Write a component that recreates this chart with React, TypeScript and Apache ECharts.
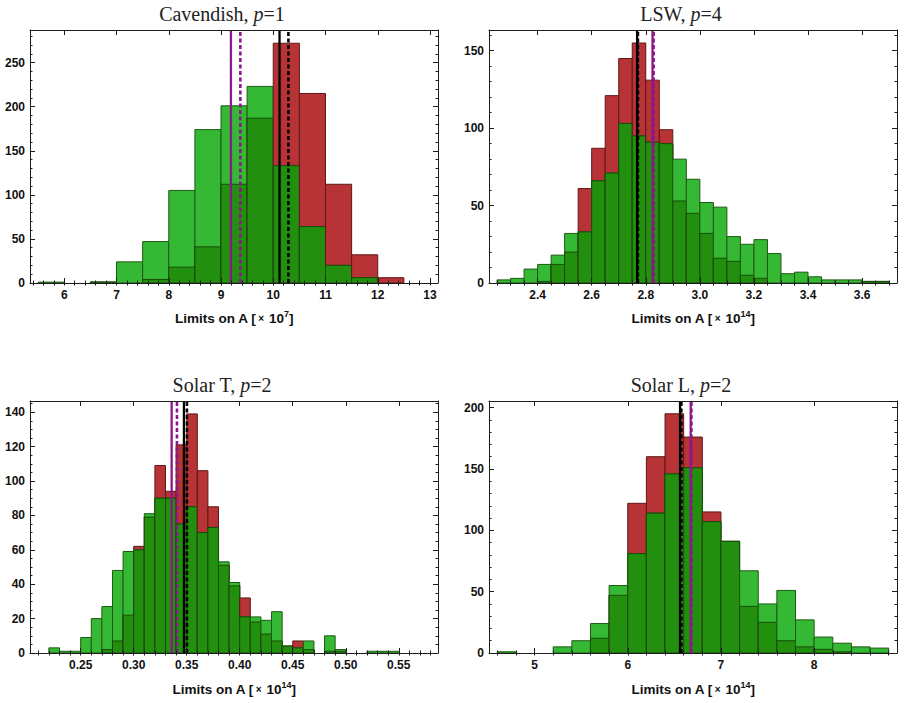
import React, { useEffect, useRef } from "react";
import * as echarts from "echarts";

// ---- Cavendish, p=1 (bins of 0.5, x in units of 1e7) ----
const cavBinStart = 5.5;
const cavBinWidth = 0.5;
const cavRed = [0, 0, 1, 0, 4, 18, 41, 112, 187, 272, 215, 112, 32, 6, 0];
const cavGreen = [1, 0, 1, 24, 47, 105, 174, 201, 223, 133, 64, 20, 6, 0, 0];
const cavXTicks = [6, 7, 8, 9, 10, 11, 12, 13];
const cavYTicks = [0, 50, 100, 150, 200, 250];
// purple solid, purple dashed, black solid, black dashed
const cavMarkers = [9.19, 9.37, 10.12, 10.29];

// ---- LSW, p=4 (bins of 0.05, x in units of 1e14) ----
const lswBinStart = 2.25;
const lswBinWidth = 0.05;
const lswRed = [0, 0, 0, 1, 12, 20, 61, 87, 121, 145, 155, 131, 99, 53, 45, 32, 16, 14, 5, 3, 0, 0, 0, 0, 0, 0, 0, 1, 1];
const lswGreen = [2, 3, 9, 12, 18, 32, 33, 66, 71, 103, 95, 91, 90, 80, 67, 52, 49, 30, 25, 28, 19, 6, 7, 4, 2, 2, 2, 1, 1];
const lswXTicks = [2.4, 2.6, 2.8, 3.0, 3.2, 3.4, 3.6];
const lswYTicks = [0, 50, 100, 150];
const lswMarkers = [2.825, 2.829, 2.768, 2.771];

// ---- Solar T, p=2 (bins of 0.01, x in units of 1e14) ----
const solTBinStart = 0.22;
const solTBinWidth = 0.01;
const solTRed = [0, 0, 0, 0, 0, 2, 7, 22, 62, 79, 109, 94, 121, 139, 106, 85, 51, 39, 32, 18, 11, 7, 4, 7, 2, 0, 1, 1, 0, 0, 0, 0, 0];
const solTGreen = [3, 1, 1, 9, 20, 27, 48, 59, 60, 81, 90, 90, 75, 85, 70, 73, 53, 41, 21, 21, 19, 24, 4, 3, 7, 0, 10, 2, 0, 0, 1, 1, 1];
const solTXTicks = [0.25, 0.3, 0.35, 0.4, 0.45, 0.5, 0.55];
const solTYTicks = [0, 20, 40, 60, 80, 100, 120, 140];
const solTMarkers = [0.3358, 0.3408, 0.3474, 0.3502];

// ---- Solar L, p=2 (bins of 0.2, x in units of 1e14) ----
const solLBinStart = 4.6;
const solLBinWidth = 0.2;
const solLRed = [0, 0, 0, 0, 0, 12, 47, 122, 160, 195, 176, 115, 91, 38, 25, 10, 5, 3, 1, 0, 0];
const solLGreen = [1, 0, 0, 5, 10, 24, 55, 81, 114, 146, 151, 107, 91, 67, 40, 51, 27, 13, 8, 5, 4];
const solLXTicks = [5, 6, 7, 8];
const solLYTicks = [0, 50, 100, 150, 200];
const solLMarkers = [6.675, 6.683, 6.561, 6.575];

const RED = "#B83335";
const RED_EDGE = "#5C1818";
const GREEN = "#35B934";
const GREEN_EDGE = "#1E5A12";
const DARK = "#238F0F";
const DARK_EDGE = "#174D0A";
const PURPLE = "#8C178C";
const FRAME = "#1c1c1c";

type Panel = {
  title: string;
  exponent: string;
  binStart: number;
  binWidth: number;
  red: number[];
  green: number[];
  xTicks: number[];
  yTicks: number[];
  markers: number[];
  xMin: number;
  xMax: number;
  yMax: number;
  xMinorStep: number;
  yMinorStep: number;
  xDecimals: number;
  box: { left: number; top: number; width: number; height: number };
  titleX: number;
  titleY: number;
  nameY: number;
};

const panels: Panel[] = [
  {
    title: "Cavendish, ", exponent: "7",
    binStart: cavBinStart, binWidth: cavBinWidth, red: cavRed, green: cavGreen,
    xTicks: cavXTicks, yTicks: cavYTicks, markers: cavMarkers,
    xMin: 5.344, xMax: 13.153, yMax: 287, xMinorStep: 0.2, yMinorStep: 10, xDecimals: 0,
    box: { left: 30, top: 30, width: 408, height: 253 }, titleX: 222, titleY: 14, nameY: 318,
  },
  {
    title: "LSW, ", exponent: "14",
    binStart: lswBinStart, binWidth: lswBinWidth, red: lswRed, green: lswGreen,
    xTicks: lswXTicks, yTicks: lswYTicks, markers: lswMarkers,
    xMin: 2.2203, xMax: 3.729, yMax: 163.4, xMinorStep: 0.05, yMinorStep: 10, xDecimals: 1,
    box: { left: 489, top: 30, width: 408, height: 253 }, titleX: 681, titleY: 14, nameY: 318,
  },
  {
    title: "Solar T, ", exponent: "14",
    binStart: solTBinStart, binWidth: solTBinWidth, red: solTRed, green: solTGreen,
    xTicks: solTXTicks, yTicks: solTYTicks, markers: solTMarkers,
    xMin: 0.2022, xMax: 0.587, yMax: 146.5, xMinorStep: 0.01, yMinorStep: 5, xDecimals: 2,
    box: { left: 30, top: 401, width: 408, height: 252 }, titleX: 222, titleY: 385, nameY: 689,
  },
  {
    title: "Solar L, ", exponent: "14",
    binStart: solLBinStart, binWidth: solLBinWidth, red: solLRed, green: solLGreen,
    xTicks: solLXTicks, yTicks: solLYTicks, markers: solLMarkers,
    xMin: 4.511, xMax: 8.889, yMax: 205.4, xMinorStep: 0.2, yMinorStep: 10, xDecimals: 0,
    box: { left: 489, top: 401, width: 408, height: 252 }, titleX: 681, titleY: 385, nameY: 689,
  },
];

const titleSuffix = ["=1", "=4", "=2", "=2"];

// Minor tick positions spanning an axis range.
function minorTicks(min: number, max: number, step: number): number[] {
  const out: number[] = [];
  const k0 = Math.ceil(min / step - 1e-9);
  const k1 = Math.floor(max / step + 1e-9);
  for (let k = k0; k <= k1; k++) out.push(+(k * step).toFixed(6));
  return out;
}

const labelStyle = {
  fontFamily: "Liberation Sans, Arial, sans-serif",
  fontWeight: "bold" as const,
  fontSize: 12,
  color: "#111",
};

function buildOption() {
  const grid: any[] = [];
  const xAxis: any[] = [];
  const yAxis: any[] = [];
  const series: any[] = [];
  const graphic: any[] = [];

  panels.forEach((p, i) => {
    grid.push({ ...p.box, containLabel: false, outerBoundsMode: "none" });
    const xMinor = minorTicks(p.xMin, p.xMax, p.xMinorStep);
    const yMinor = minorTicks(0, p.yMax, p.yMinorStep);
    const common = { gridIndex: i, type: "value", splitLine: { show: false }, z: 10 };
    const xBase = { ...common, min: p.xMin, max: p.xMax };
    const yBase = { ...common, min: 0, max: p.yMax };
    const line = { show: true, onZero: false, lineStyle: { color: FRAME, width: 1 } };

    ["bottom", "top"].forEach((pos) => {
      xAxis.push({
        ...xBase,
        position: pos,
        axisLine: line,
        axisTick: { show: true, inside: true, length: 5, customValues: p.xTicks, lineStyle: { color: FRAME, width: 1 } },
        axisLabel: pos === "bottom"
          ? { show: true, customValues: p.xTicks, margin: 6, ...labelStyle, formatter: (v: number) => v.toFixed(p.xDecimals) }
          : { show: false },
      });
      xAxis.push({
        ...xBase,
        position: pos,
        axisLine: { show: false },
        axisTick: { show: true, inside: true, length: 2.5, customValues: xMinor, lineStyle: { color: FRAME, width: 1 } },
        axisLabel: { show: false },
      });
    });
    ["left", "right"].forEach((pos) => {
      yAxis.push({
        ...yBase,
        position: pos,
        axisLine: line,
        axisTick: { show: true, inside: true, length: 5, customValues: p.yTicks, lineStyle: { color: FRAME, width: 1 } },
        axisLabel: pos === "left"
          ? { show: true, customValues: p.yTicks, margin: 5, ...labelStyle, formatter: (v: number) => String(v) }
          : { show: false },
      });
      yAxis.push({
        ...yBase,
        position: pos,
        axisLine: { show: false },
        axisTick: { show: true, inside: true, length: 2.5, customValues: yMinor, lineStyle: { color: FRAME, width: 1 } },
        axisLabel: { show: false },
      });
    });

    const data = p.red.map((r, k) => [
      p.binStart + k * p.binWidth,
      p.binStart + (k + 1) * p.binWidth,
      r,
      p.green[k],
    ]);

    series.push({
      type: "custom",
      xAxisIndex: i * 4,
      yAxisIndex: i * 4,
      data,
      encode: { x: [0, 1], y: [2, 3] },
      clip: true,
      z: 2,
      renderItem: (_params: any, api: any) => {
        const x0 = api.value(0);
        const x1 = api.value(1);
        const r = api.value(2);
        const g = api.value(3);
        const base = api.coord([x0, 0]);
        const right = api.coord([x1, 0]);
        const rect = (h: number, fill: string, stroke: string) => {
          const top = api.coord([x0, h]);
          return {
            type: "rect",
            shape: { x: base[0], y: top[1], width: right[0] - base[0], height: base[1] - top[1] },
            style: { fill, stroke, lineWidth: 1 },
          };
        };
        const children: any[] = [];
        if (r > 0) children.push(rect(r, RED, RED_EDGE));
        if (g > 0) children.push(rect(g, GREEN, GREEN_EDGE));
        const m = Math.min(r, g);
        if (m > 0) children.push(rect(m, DARK, DARK_EDGE));
        return { type: "group", children };
      },
    });

    // Vertical reference lines spanning the full plot height.
    const [pSolid, pDash, bSolid, bDash] = p.markers;
    const styles = [
      { v: pSolid, color: PURPLE, width: 2.3, type: "solid" },
      { v: pDash, color: PURPLE, width: 2.6, type: [4, 2.5] },
      { v: bSolid, color: "#000", width: 2.3, type: "solid" },
      { v: bDash, color: "#000", width: 2.6, type: [4, 2.5] },
    ];
    styles.forEach((s) => {
      series.push({
        type: "line",
        xAxisIndex: i * 4,
        yAxisIndex: i * 4,
        data: [[s.v, 0], [s.v, p.yMax]],
        symbol: "none",
        silent: true,
        z: 3,
        lineStyle: { color: s.color, width: s.width, type: s.type },
      });
    });

    graphic.push({
      type: "text",
      x: p.titleX,
      y: p.titleY,
      style: {
        text: `{n|${p.title}}{i|p}{n|${titleSuffix[i]}}`,
        textAlign: "center",
        textVerticalAlign: "middle",
        rich: {
          n: { fontFamily: "Liberation Serif, serif", fontSize: 20, fill: "#222" },
          i: { fontFamily: "Liberation Serif, serif", fontSize: 20, fontStyle: "italic", fill: "#222" },
        },
      },
    });
    graphic.push({
      type: "text",
      x: p.box.left + p.box.width / 2,
      y: p.nameY,
      style: {
        text: `{t|Limits on A [}{x|×}{t| 10}{s|${p.exponent}}{t|]}`,
        textAlign: "center",
        textVerticalAlign: "middle",
        rich: {
          t: { fontFamily: "Liberation Sans, Arial, sans-serif", fontWeight: "bold", fontSize: 13.5, fill: "#111", lineHeight: 18 },
          x: { fontFamily: "Liberation Sans, Arial, sans-serif", fontWeight: "bold", fontSize: 10, fill: "#111", lineHeight: 18, padding: [0, 1, 0, 2] },
          s: { fontFamily: "Liberation Sans, Arial, sans-serif", fontWeight: "bold", fontSize: 9, fill: "#111", verticalAlign: "top", lineHeight: 10 },
        },
      },
    });
  });

  return {
    animation: false,
    backgroundColor: "#fff",
    grid,
    xAxis,
    yAxis,
    series,
    graphic,
  };
}

export default function App() {
  const ref = useRef<HTMLDivElement>(null);
  useEffect(() => {
    if (!ref.current) return;
    const chart = echarts.init(ref.current, undefined, { renderer: "svg" });
    chart.setOption(buildOption() as any);
    return () => chart.dispose();
  }, []);
  return (
    <div
      ref={ref}
      style={{ position: "absolute", left: 0, top: 0, width: 904, height: 703, background: "#fff" }}
    />
  );
}
